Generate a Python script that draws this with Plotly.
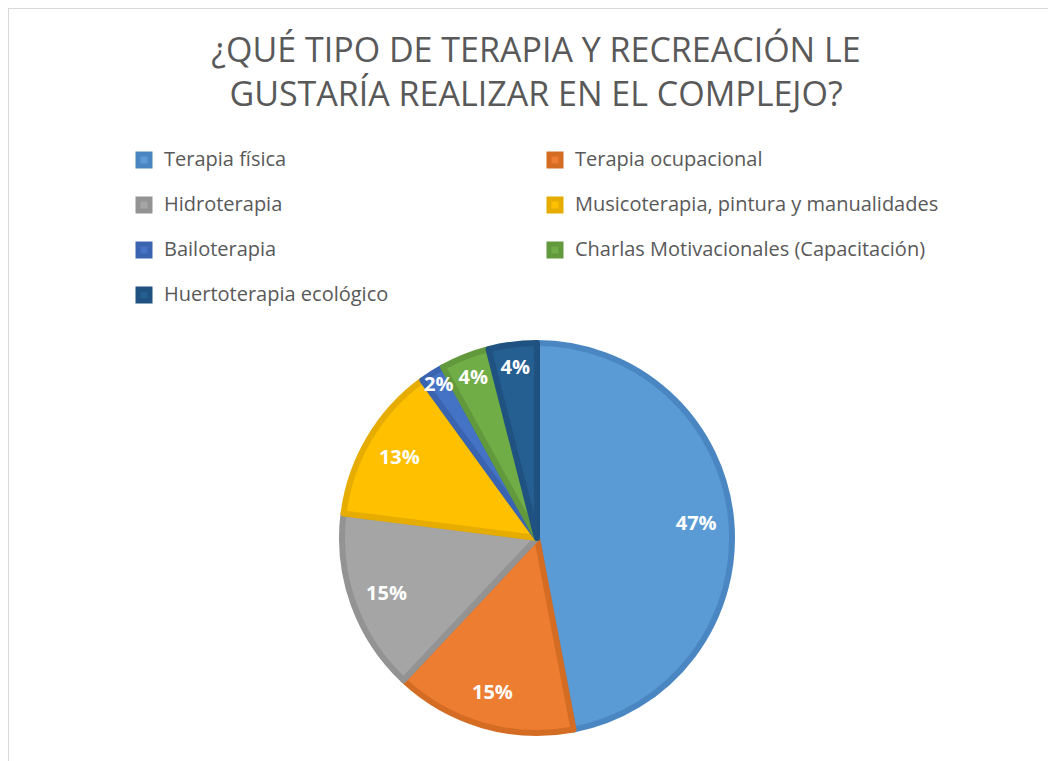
import plotly.graph_objects as go

# survey answers (share of respondents, %)
categorias = [
    "Terapia física",
    "Terapia ocupacional",
    "Hidroterapia",
    "Musicoterapia, pintura y manualidades",
    "Bailoterapia",
    "Charlas Motivacionales (Capacitación)",
    "Huertoterapia ecológico",
]
porcentajes = [47, 15, 15, 13, 2, 4, 4]

colores = ["#5B9BD5", "#ED7D31", "#A5A5A5", "#FFC000", "#4472C4", "#70AD47", "#255E91"]
bordes = ["#4A87C2", "#D56C24", "#939393", "#E6AC00", "#3A64B0", "#62993D", "#1F5181"]

TEXT = "#595959"
# page body has an 8px margin, so the figure is 8px smaller than the window
W, H = 1048, 753

# two-line legend label (second line empty) -> row pitch ~45px, symbol aligned to first line
etiquetas = [f'<span style="font-size:20px">{c}</span><br> ' for c in categorias]

dominio = dict(x=[334 / W, 724 / W], y=[1 - 725 / H, 1 - 335 / H])

fig = go.Figure()
fig.add_trace(go.Pie(
    labels=etiquetas,
    values=porcentajes,
    sort=False,
    direction="clockwise",
    rotation=0,
    marker=dict(colors=colores, line=dict(color=bordes, width=6)),
    textinfo="none",
    hoverinfo="label+percent",
    domain=dominio,
))
# transparent ring on top only to carry the percentage labels further out
fig.add_trace(go.Pie(
    labels=categorias,
    values=porcentajes,
    sort=False,
    direction="clockwise",
    rotation=0,
    hole=0.64,
    marker=dict(colors=["rgba(0,0,0,0)"] * len(porcentajes), line=dict(width=0)),
    texttemplate="%{percent:.0%}",
    textposition="inside",
    insidetextorientation="horizontal",
    textfont=dict(color="white", size=20, family="Open Sans", weight="bold"),
    hoverinfo="skip",
    showlegend=False,
    domain=dominio,
))

fig.update_layout(
    width=W, height=H,
    paper_bgcolor="white",
    plot_bgcolor="white",
    margin=dict(l=0, r=0, t=0, b=0),
    font=dict(family="Open Sans, sans-serif", color=TEXT),
    uniformtext=dict(minsize=20, mode="show"),
    title=dict(
        text="¿QUÉ TIPO DE TERAPIA Y RECREACIÓN LE<br>GUSTARÍA REALIZAR EN EL COMPLEJO?",
        x=528 / W, xanchor="center",
        y=1 - 54 / H, yanchor="top", yref="container",
        font=dict(size=34, color=TEXT, family="Open Sans, sans-serif"),
    ),
    legend=dict(
        orientation="h",
        x=116 / W, xanchor="left",
        y=1 - 135 / H, yanchor="top",
        entrywidth=366,
        valign="top",
        font=dict(size=16.15, color=TEXT),
        bgcolor="rgba(0,0,0,0)",
    ),
    shapes=[
        dict(type="line", xref="paper", yref="paper", x0=0, x1=1, y0=1, y1=1,
             line=dict(color="#D9D9D9", width=2)),
        dict(type="line", xref="paper", yref="paper", x0=0, x1=0, y0=0, y1=1,
             line=dict(color="#D9D9D9", width=2)),
    ],
)

fig.write_html("out.html")
